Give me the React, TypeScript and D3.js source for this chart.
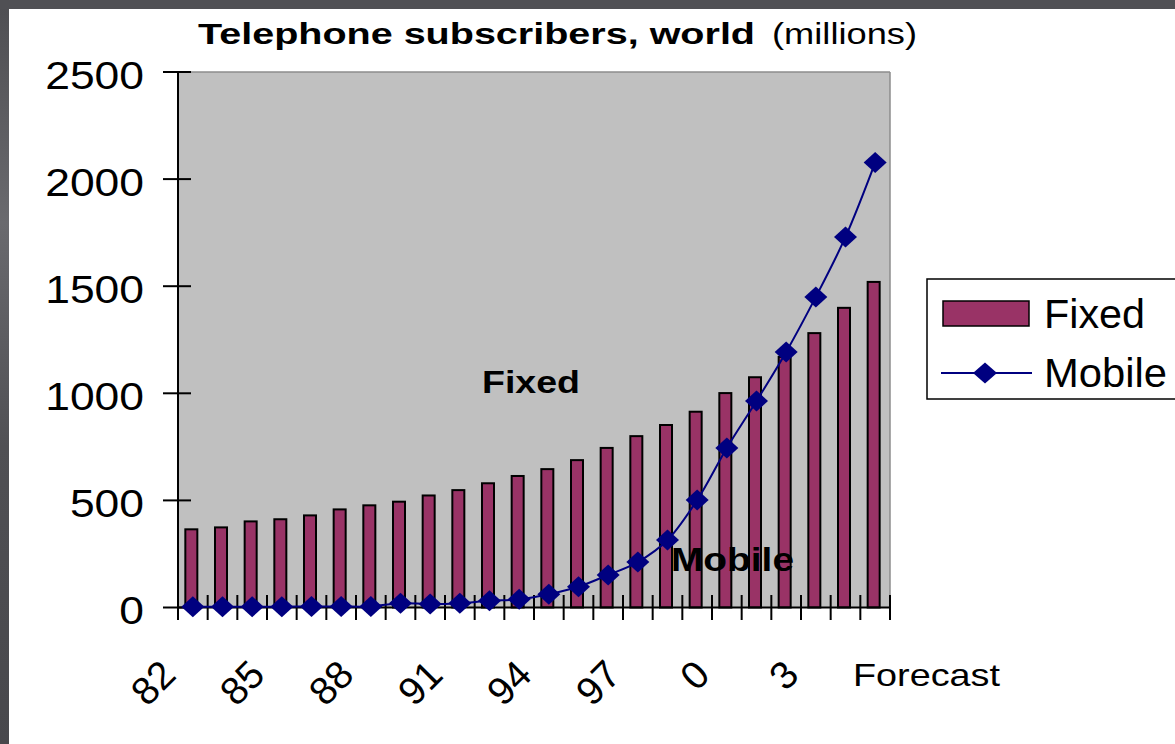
import React from "react";
import * as d3 from "d3";

const categories = ["82","83","84","85","86","87","88","89","90","91","92","93","94","95","96","97","98","99","00","01","02","03","04","05"];
const fixedValues = [365,374,402,412,430,458,477,494,523,548,580,614,646,688,745,800,852,914,1001,1075,1170,1281,1399,1520];
const mobileValues = [3,3,4,4,5,5,5,20,16,20,32,38,62,97,152,212,315,502,745,964,1193,1450,1730,2077];
const xTickLabels: Record<string, string> = { "82":"82", "85":"85", "88":"88", "91":"91", "94":"94", "97":"97", "00":"0", "03":"3" };
const yTicks = [0, 500, 1000, 1500, 2000, 2500];

const FONT = "'Liberation Sans', Arial, sans-serif";
const BAR = "#993366";
const NAVY = "#000080";

export default function App() {
  const left = 178, right = 890, top = 72, bottom = 607.5;
  const x = d3.scaleBand<string>().domain(categories).range([left, right]).paddingInner(0).paddingOuter(0);
  const y = d3.scaleLinear().domain([0, 2500]).range([bottom, top]);
  const bw = x.bandwidth();
  const cx = (c: string) => (x(c) as number) + bw / 2;

  const line = d3.line<number>()
    .x((_, i) => cx(categories[i]))
    .y((d) => y(d))
    .curve(d3.curveCatmullRom.alpha(0.5));

  const diamond = (px: number, py: number, w = 11.5, h = 10.5) =>
    `M${px},${py - h}L${px + w},${py}L${px},${py + h}L${px - w},${py}Z`;

  const edges = d3.range(categories.length + 1).map((i) => left + i * bw);

  return (
    <svg width={1175} height={744} style={{ position: "absolute", left: 0, top: 0, display: "block" }} fontFamily={FONT}>
      <defs>
        <linearGradient id="bgg" x1="0" y1="0" x2="0" y2="1">
          <stop offset="0" stopColor="#4e4e52" />
          <stop offset="0.3" stopColor="#6a6a6e" />
          <stop offset="0.6" stopColor="#505054" />
          <stop offset="1" stopColor="#48484c" />
        </linearGradient>
      </defs>
      <rect x={0} y={0} width={1175} height={744} fill="url(#bgg)" />
      <rect x={0} y={0} width={1175} height={9} fill="#505054" />
      <rect x={9} y={9} width={1166} height={735} fill="#ffffff" />

      {/* Title */}
      <text x={198} y={44} fontSize={30} fontWeight="bold" textLength={557} lengthAdjust="spacingAndGlyphs">Telephone subscribers, world</text>
      <text x={772} y={44} fontSize={30} textLength={145} lengthAdjust="spacingAndGlyphs">(millions)</text>

      {/* Plot area */}
      <rect x={left} y={top} width={right - left} height={bottom - top} fill="#c0c0c0" />
      <line x1={left} y1={top} x2={right} y2={top} stroke="#8c8c8c" strokeWidth={1.5} />
      <line x1={right} y1={top} x2={right} y2={bottom} stroke="#8c8c8c" strokeWidth={1.5} />

      {/* Bars */}
      {categories.map((c, i) => (
        <rect key={c} x={cx(c) - 7.5} y={y(fixedValues[i])} width={12} height={bottom - y(fixedValues[i])}
          fill={BAR} stroke="#000" strokeWidth={2} />
      ))}

      {/* Axes */}
      <line x1={left} y1={top} x2={left} y2={bottom} stroke="#000" strokeWidth={2} />
      <line x1={left} y1={bottom} x2={right} y2={bottom} stroke="#000" strokeWidth={2} />
      {yTicks.map((t) => (
        <g key={t}>
          <line x1={163} x2={191} y1={y(t)} y2={y(t)} stroke="#000" strokeWidth={2} />
          <text x={144} y={y(t) + 16.5} fontSize={39} textAnchor="end"
            textLength={String(t).length * 24.7} lengthAdjust="spacingAndGlyphs">{t}</text>
        </g>
      ))}
      {edges.map((ex, i) => (
        <line key={i} x1={ex} x2={ex} y1={595} y2={620} stroke="#000" strokeWidth={2} />
      ))}

      {/* Mobile line */}
      <path d={line(mobileValues) || ""} fill="none" stroke={NAVY} strokeWidth={2} />
      {mobileValues.map((v, i) => (
        <path key={i} d={diamond(cx(categories[i]), y(v))} fill={NAVY} />
      ))}

      {/* X labels */}
      {categories.map((c) =>
        xTickLabels[c] ? (
          <text key={c} transform={`translate(${cx(c) - 15},${677}) rotate(-45)`} fontSize={39} textAnchor="end">
            {xTickLabels[c]}
          </text>
        ) : null
      )}
      <text x={853} y={686} fontSize={32} textLength={147} lengthAdjust="spacingAndGlyphs">Forecast</text>

      {/* Data labels */}
      <text x={482} y={393} fontSize={32} fontWeight="bold" textLength={98} lengthAdjust="spacingAndGlyphs">Fixed</text>
      <text x={671} y={570.5} fontSize={33} fontWeight="bold" textLength={123} lengthAdjust="spacingAndGlyphs">Mobile</text>

      {/* Legend */}
      <rect x={927} y={279} width={270} height={120} fill="#fff" stroke="#000" strokeWidth={1.5} />
      <rect x={943} y={301} width={86} height={25} fill={BAR} stroke="#000" strokeWidth={1.5} />
      <text x={1044} y={328} fontSize={40} textLength={101} lengthAdjust="spacingAndGlyphs">Fixed</text>
      <line x1={941} x2={1032} y1={373} y2={373} stroke={NAVY} strokeWidth={2} />
      <path d={diamond(985, 373, 12, 10.5)} fill={NAVY} />
      <text x={1044} y={387} fontSize={40} textLength={123} lengthAdjust="spacingAndGlyphs">Mobile</text>
    </svg>
  );
}
